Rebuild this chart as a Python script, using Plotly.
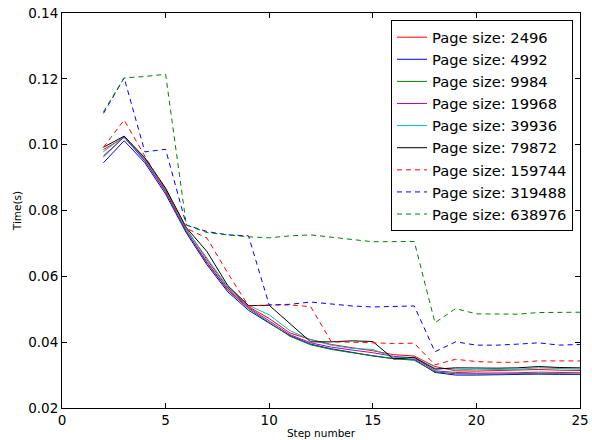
import plotly.graph_objects as go

# Step numbers on the x axis
steps = list(range(2, 26))

# Per-step timings (seconds) for each page size
t_2496 = [0.0985, 0.1022, 0.0958, 0.0865, 0.0745, 0.0650, 0.0565, 0.0508, 0.0472, 0.0428,
          0.0408, 0.0393, 0.0383, 0.0374, 0.0362, 0.0358, 0.0326, 0.0313, 0.0312, 0.0313,
          0.0314, 0.0317, 0.0315, 0.0314]
t_4992 = [0.0945, 0.1012, 0.0945, 0.0850, 0.0732, 0.0635, 0.0553, 0.0497, 0.0458, 0.0420,
          0.0394, 0.0380, 0.0369, 0.0358, 0.0350, 0.0348, 0.0308, 0.0300, 0.0300, 0.0301,
          0.0303, 0.0303, 0.0302, 0.0302]
t_9984 = [0.0963, 0.1024, 0.0952, 0.0856, 0.0735, 0.0640, 0.0558, 0.0502, 0.0460, 0.0418,
          0.0392, 0.0378, 0.0368, 0.0360, 0.0350, 0.0345, 0.0310, 0.0304, 0.0303, 0.0303,
          0.0304, 0.0305, 0.0304, 0.0303]
t_19968 = [0.0966, 0.1023, 0.0950, 0.0858, 0.0738, 0.0643, 0.0560, 0.0505, 0.0465, 0.0423,
           0.0398, 0.0385, 0.0376, 0.0368, 0.0357, 0.0352, 0.0313, 0.0308, 0.0306, 0.0306,
           0.0307, 0.0309, 0.0308, 0.0307]
t_39936 = [0.0979, 0.1025, 0.0955, 0.0862, 0.0742, 0.0655, 0.0568, 0.0512, 0.0483, 0.0435,
           0.0407, 0.0391, 0.0381, 0.0378, 0.0353, 0.0354, 0.0321, 0.0318, 0.0316, 0.0317,
           0.0318, 0.0322, 0.0320, 0.0318]
t_79872 = [0.0992, 0.1026, 0.0960, 0.0868, 0.0748, 0.0675, 0.0572, 0.0511, 0.0512, 0.0455,
           0.0401, 0.0401, 0.0404, 0.0402, 0.0349, 0.0354, 0.0318, 0.0322, 0.0321, 0.0321,
           0.0322, 0.0326, 0.0323, 0.0322]
t_159744 = [0.0992, 0.1075, 0.0965, 0.0862, 0.0746, 0.0716, 0.0610, 0.0510, 0.0513, 0.0513,
            0.0508, 0.0401, 0.0400, 0.0398, 0.0396, 0.0397, 0.0331, 0.0348, 0.0341, 0.0339,
            0.0339, 0.0343, 0.0343, 0.0343]
t_319488 = [0.1095, 0.1203, 0.0978, 0.0986, 0.0756, 0.0736, 0.0726, 0.0723, 0.0513, 0.0515,
            0.0522, 0.0516, 0.0510, 0.0507, 0.0509, 0.0510, 0.0371, 0.0401, 0.0391, 0.0391,
            0.0394, 0.0398, 0.0391, 0.0393]
t_638976 = [0.1100, 0.1203, 0.1207, 0.1214, 0.0756, 0.0733, 0.0726, 0.0720, 0.0717, 0.0723,
            0.0726, 0.0720, 0.0712, 0.0705, 0.0705, 0.0706, 0.0459, 0.0502, 0.0486, 0.0486,
            0.0485, 0.0490, 0.0491, 0.0491]

labels = ["Page size: 2496", "Page size: 4992", "Page size: 9984", "Page size: 19968",
          "Page size: 39936", "Page size: 79872", "Page size: 159744", "Page size: 319488",
          "Page size: 638976"]
series = [t_2496, t_4992, t_9984, t_19968, t_39936, t_79872, t_159744, t_319488, t_638976]
colors = ["#FF0000", "#0000FF", "#008000", "#BF00BF", "#00BFBF", "#000000",
          "#FF0000", "#0000FF", "#008000"]
dashes = ["solid"] * 6 + ["5px,4px"] * 3

x_ticks = [0, 5, 10, 15, 20, 25]
y_ticks = [0.02, 0.04, 0.06, 0.08, 0.10, 0.12, 0.14]

fig = go.Figure()
for name, ys, col, dash in zip(labels, series, colors, dashes):
    fig.add_trace(go.Scatter(x=steps, y=ys, mode="lines", name=name,
                             line=dict(color=col, width=1, dash=dash)))

font_family = "DejaVu Sans"
axis_common = dict(showline=True, linecolor="black", linewidth=1, mirror="ticks",
                   ticks="inside", ticklen=5, tickcolor="black", showgrid=False,
                   zeroline=False, automargin=False,
                   tickfont=dict(family=font_family, size=13.5, color="black"))

fig.update_layout(
    width=592, height=440,
    margin=dict(l=62, r=12, t=13, b=32),
    paper_bgcolor="white", plot_bgcolor="white",
    font=dict(family=font_family, color="black"),
    xaxis=dict(range=[0, 25], tickvals=x_ticks, ticktext=[str(v) for v in x_ticks],
               title=dict(text="Step number", font=dict(size=10.5), standoff=2),
               **axis_common),
    yaxis=dict(range=[0.02, 0.14], tickvals=y_ticks, ticktext=[f"{v:.2f}" for v in y_ticks],
               title=dict(text="Time(s)", font=dict(size=10.5), standoff=4),
               **axis_common),
    legend=dict(x=0.9865, y=0.982, xanchor="right", yanchor="top",
                bordercolor="black", borderwidth=1, bgcolor="white",
                font=dict(family=font_family, size=14.7, color="black")),
    showlegend=True,
)

fig.write_html("out.html")
